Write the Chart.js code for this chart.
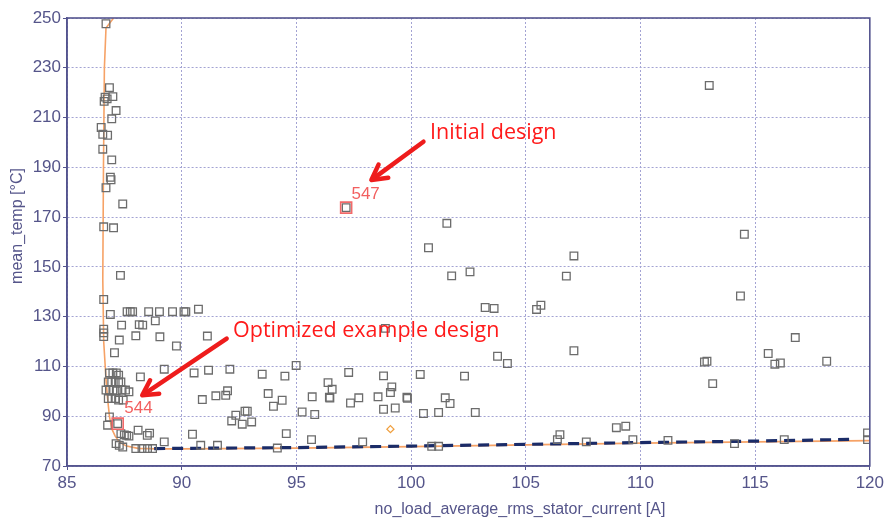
<!DOCTYPE html>
<html>
<head>
<meta charset="utf-8">
<script src="https://cdn.jsdelivr.net/npm/chart.js@4.4.1/dist/chart.umd.min.js"></script>
<style>
html,body{margin:0;padding:0;background:#fff;}
canvas{display:block;}
</style>
</head>
<body>
<canvas id="c" width="887" height="523"></canvas>
<script>
// ---------- data ----------
const xTicks = [85, 90, 95, 100, 105, 110, 115, 120];
const yTicks = [70, 90, 110, 130, 150, 170, 190, 210, 230, 250];

const designCurrent = [
  86.7, 86.85, 87.0, 86.66, 86.62, 86.75, 87.14, 86.95, 86.49, 86.56, 86.77, 86.56, 86.95, 86.89, 86.92, 86.7, 87.43, 86.6, 87.03, 87.33,
  86.6, 86.89, 87.62, 87.76, 87.86, 86.6, 86.6, 86.6, 88.56, 89.03, 89.6, 90.1, 90.18, 90.73, 87.38, 88.15, 88.3, 88.85, 88.0, 89.05,
  87.28, 89.77, 91.12, 87.07, 89.24, 88.2, 90.54, 91.17, 92.1, 93.51, 94.5,
  86.85, 87.0, 87.15, 87.25, 86.8, 86.95, 87.1, 87.25, 87.35, 86.7, 86.85, 87.0, 87.15, 87.4, 87.55, 87.7, 86.8, 86.95, 87.1, 87.25, 87.45,
  90.9, 91.49, 91.92, 92.0, 93.77, 94.0, 94.38, 92.76, 92.86, 92.36, 92.18, 92.64, 93.05, 94.56, 90.47, 87.21, 86.85, 86.77, 87.35, 87.5,
  87.6, 87.7, 88.1, 88.5, 88.6, 89.24, 87.14, 87.28, 87.43, 88.0, 88.27, 88.51, 88.73, 94.17, 90.83, 91.56, 94.99,
  97.17, 101.56, 100.76, 101.77, 102.57, 103.23, 103.62, 105.47, 105.66, 107.1, 106.77, 98.88, 107.1, 103.77, 104.2, 97.28, 98.8, 100.4, 102.33,
  96.38, 96.56, 95.69, 96.44, 96.46, 97.36, 97.72, 98.56, 99.1, 99.16, 99.82, 99.84, 98.8, 99.31, 95.25, 95.8, 100.54, 101.2, 101.49, 101.7,
  102.8, 95.66, 97.89, 100.9, 101.2, 106.38, 106.49,
  113.0, 114.53, 114.36, 112.79, 112.9, 113.15, 115.57, 115.86, 116.1, 116.75, 118.12, 108.95, 109.36, 107.64, 109.67, 111.2, 114.1, 116.27, 119.9, 119.9
];
const designTemp = [
  247.7, 222, 218.4, 218.2, 216.5, 217.5, 212.8, 209.5, 206, 203.3, 202.9, 197.3, 193, 186, 185, 181.8, 175.3, 166.1, 165.7, 146.6,
  136.9, 130.9, 132, 132, 132, 125, 123.5, 122, 132, 132, 132, 132, 132, 133, 126.6, 126.8, 126.6, 128.3, 122.3, 121.9,
  120.6, 118.2, 122.2, 115.5, 108.9, 105.8, 107.4, 108.5, 108.9, 106.9, 106.1,
  107.4, 107.4, 107.4, 106.5, 103.8, 103.8, 103.8, 103.8, 103.8, 100.5, 100.5, 100.5, 100.2, 100.5, 100.5, 99.8, 97.1, 97.1, 97.1, 96.5, 96.5,
  96.7, 98.2, 98.4, 100.2, 99.1, 94.0, 96.4, 92.0, 92.0, 90.4, 88.1, 86.8, 87.7, 83.0, 82.75, 87.0, 89.7, 86.4, 83.0, 82.5,
  82.3, 82.0, 84.4, 82.3, 83.2, 79.7, 79, 78.3, 77.6, 77, 77, 77, 77, 77.2, 78.3, 78.3, 110.4,
  173.8, 167.5, 157.7, 146.4, 148.0, 133.7, 133.3, 132.9, 134.6, 154.4, 146.3, 125.3, 116.3, 114.1, 111.2, 107.6, 106.2, 106.8, 106.1,
  103.5, 100.8, 97.8, 97.6, 97.3, 95.3, 97.4, 97.8, 99.5, 101.8, 97.6, 97.2, 92.8, 93.3, 91.7, 90.7, 91.1, 91.5, 97.4, 95.1,
  91.5, 80.6, 79.7, 77.9, 77.9, 80.6, 82.6,
  222.9, 163.1, 138.3, 111.8, 112.1, 103.1, 115.2, 110.9, 111.4, 121.6, 112.1, 85.4, 86.0, 79.7, 80.6, 80.3, 79, 80.6, 83.3, 80.6
];

const frontCurrent = [87.03, 86.7, 86.63, 86.59, 86.56, 86.6, 86.7, 86.77, 86.85, 86.95, 87.1, 87.3, 87.6, 88.1, 89, 90, 95, 100, 105, 110, 115, 120];
const frontTemp    = [250, 246, 230, 190, 145, 120, 105, 97, 90, 85, 82, 79.5, 78, 77.1, 76.9, 76.9, 77.2, 77.8, 78.5, 79.2, 79.7, 80.2];

const trendCurrent = [88.8, 95, 100, 105, 110, 115, 119.3];
const trendTemp    = [77.0, 77.4, 78.0, 78.7, 79.4, 80.0, 80.7];

const highlightIds     = ['547', '544'];
const highlightCurrent = [97.17, 87.21];
const highlightTemp    = [173.8, 87.0];
const labelCurrent     = [97.4, 87.5];
const labelTemp        = [179.2, 93.1];

const otherCurrent = [99.1];
const otherTemp    = [84.8];

const noteTexts   = ['Initial design', 'Optimized example design'];
const noteCurrent = [100.83, 92.24];
const noteTemp    = [203.8, 124.2];
const arrowFromCurrent = [100.54, 91.96];
const arrowFromTemp    = [200.3, 121.2];
const arrowToCurrent   = [98.27, 88.28];
const arrowToTemp      = [184.9, 98.4];

const xTitle = 'no_load_average_rms_stator_current [A]';
const yTitle = 'mean_temp [°C]';

// ---------- helpers ----------
const pts = (xs, ys) => xs.map((x, i) => ({x: x, y: ys[i]}));
const axisColor = '#55558f';
const textColor = '#55558a';
const gridColor = '#a3a3d3';

const overlay = {
  id: 'overlay',
  afterDraw(chart) {
    const {ctx, chartArea: a, scales: {x, y}} = chart;
    ctx.save();
    // frame
    ctx.strokeStyle = axisColor;
    ctx.lineWidth = 1.6;
    ctx.strokeRect(a.left, a.top, a.right - a.left, a.bottom - a.top);
    // axis titles
    ctx.fillStyle = textColor;
    ctx.font = '16px "Liberation Sans", Arial, sans-serif';
    ctx.textAlign = 'center';
    ctx.textBaseline = 'middle';
    ctx.fillText(xTitle, 520, 510);
    ctx.save();
    ctx.translate(18, 226);
    ctx.rotate(-Math.PI / 2);
    ctx.fillText(yTitle, 0, 0);
    ctx.restore();
    // highlight labels
    ctx.fillStyle = '#f25f5f';
    ctx.font = '17px "Liberation Sans", Arial, sans-serif';
    ctx.textAlign = 'left';
    for (let i = 0; i < highlightIds.length; i++) {
      ctx.fillText(highlightIds[i], x.getPixelForValue(labelCurrent[i]), y.getPixelForValue(labelTemp[i]));
    }
    // arrows
    ctx.strokeStyle = '#ee1c1c';
    ctx.lineWidth = 4.5;
    ctx.lineCap = 'round';
    ctx.lineJoin = 'round';
    for (let i = 0; i < arrowFromCurrent.length; i++) {
      const x0 = x.getPixelForValue(arrowFromCurrent[i]), y0 = y.getPixelForValue(arrowFromTemp[i]);
      const x1 = x.getPixelForValue(arrowToCurrent[i]), y1 = y.getPixelForValue(arrowToTemp[i]);
      const ang = Math.atan2(y1 - y0, x1 - x0);
      const hl = 17, hw = 0.5;
      ctx.beginPath();
      ctx.moveTo(x0, y0);
      ctx.lineTo(x1 - Math.cos(ang) * 4, y1 - Math.sin(ang) * 4);
      ctx.stroke();
      ctx.beginPath();
      ctx.moveTo(x1 - hl * Math.cos(ang - hw), y1 - hl * Math.sin(ang - hw));
      ctx.lineTo(x1, y1);
      ctx.lineTo(x1 - hl * Math.cos(ang + hw), y1 - hl * Math.sin(ang + hw));
      ctx.stroke();
    }
    // notes
    ctx.fillStyle = '#ff1a1a';
    ctx.font = '21.5px "Open Sans", sans-serif';
    ctx.textAlign = 'left';
    for (let i = 0; i < noteTexts.length; i++) {
      ctx.fillText(noteTexts[i], x.getPixelForValue(noteCurrent[i]), y.getPixelForValue(noteTemp[i]));
    }
    ctx.restore();
  }
};

const tickFont = {family: '"Liberation Sans", Arial, sans-serif', size: 17};

new Chart(document.getElementById('c'), {
  type: 'scatter',
  data: {
    datasets: [
      {order: 4, data: pts(frontCurrent, frontTemp), showLine: true, borderColor: '#f6a266', borderWidth: 1.6, pointRadius: 0, tension: 0},
      {order: 3, data: pts(trendCurrent, trendTemp), showLine: true, borderColor: '#1b2c68', borderWidth: 3.2, borderDash: [11, 7], pointRadius: 0, tension: 0},
      {order: 1, data: pts(designCurrent, designTemp), pointStyle: 'rect', pointRadius: 5.4, borderColor: '#6c6c6c', borderWidth: 1.3, backgroundColor: 'rgba(0,0,0,0)'},
      {order: 0, data: pts(highlightCurrent, highlightTemp), pointStyle: 'rect', pointRadius: 7.8, borderColor: '#f26a6a', borderWidth: 1.6, backgroundColor: 'rgba(0,0,0,0)'},
      {order: 2, data: pts(otherCurrent, otherTemp), pointStyle: 'rectRot', pointRadius: 3.5, borderColor: '#f0a040', borderWidth: 1.3, backgroundColor: 'rgba(0,0,0,0)'}
    ]
  },
  options: {
    responsive: false,
    animation: false,
    events: [],
    layout: {padding: {top: 18, right: 15, left: 0, bottom: 0}},
    plugins: {legend: {display: false}, tooltip: {enabled: false}},
    scales: {
      x: {
        type: 'linear', min: 85, max: 120,
        afterBuildTicks: s => { s.ticks = xTicks.map(v => ({value: v})); },
        afterFit: s => { s.height = 57; },
        ticks: {font: tickFont, color: textColor, padding: 3, maxRotation: 0},
        grid: {color: gridColor, lineWidth: 1, tickLength: 4, tickColor: axisColor},
        border: {display: true, color: axisColor, width: 1.6, dash: [2, 2]}
      },
      y: {
        type: 'linear', min: 70, max: 250,
        afterBuildTicks: s => { s.ticks = yTicks.map(v => ({value: v})); },
        afterFit: s => { s.width = 67; },
        ticks: {font: tickFont, color: textColor, padding: 2},
        grid: {color: gridColor, lineWidth: 1, tickLength: 4, tickColor: axisColor},
        border: {display: true, color: axisColor, width: 1.6, dash: [2, 2]}
      }
    }
  },
  plugins: [overlay]
});
</script>
</body>
</html>
